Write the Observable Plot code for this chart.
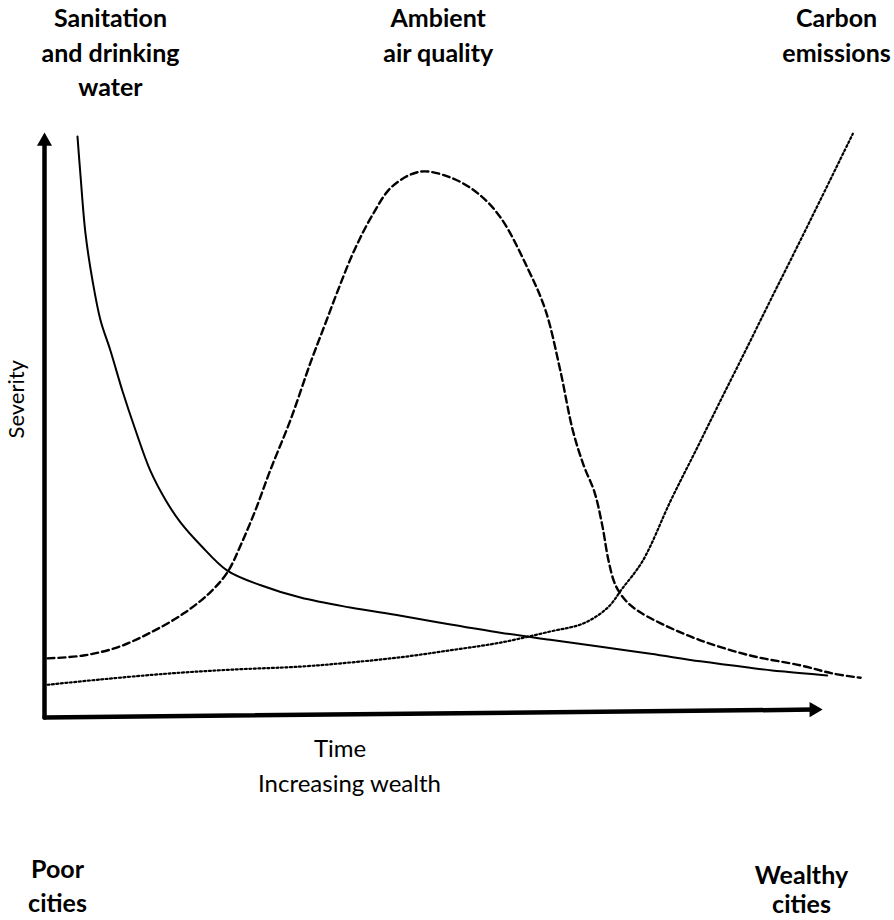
<!DOCTYPE html>
<html>
<head>
<meta charset="utf-8">
<script src="https://cdn.jsdelivr.net/npm/d3@7"></script>
<script src="https://cdn.jsdelivr.net/npm/@observablehq/plot@0.6"></script>
<style>
  html, body { margin: 0; padding: 0; background: #fff; }
  #chart svg { display: block; }
</style>
</head>
<body>
<div id="chart"></div>
<script>
// Time / increasing wealth (0..100) vs severity (0..100)
const sanitationX = [4.24, 4.63, 5.27, 6.17, 7.2, 8.48, 10.0, 11.7, 13.6, 15.6, 17.5, 20.1, 23.5, 27.8, 32.9, 39.3, 45.8, 52.2, 58.6, 65.0, 71.5, 77.9, 84.3, 90.7, 94.6, 100.6];
const sanitationY = [99.3, 92.6, 82.7, 74.7, 67.9, 62.7, 55.9, 49.1, 42.2, 37.1, 33.3, 29.4, 25.1, 22.6, 20.5, 18.8, 17.4, 15.9, 14.5, 13.3, 12.1, 10.9, 9.6, 8.5, 7.9, 7.2];

const airX = [0.39, 5.01, 9.38, 13.6, 17.9, 21.3, 23.5, 25.2, 27.1, 29.0, 31.6, 34.2, 36.0, 37.8, 39.8, 42.2, 44.7, 48.3, 52.2, 55.7, 58.6, 62.1, 64.4, 66.3, 67.9, 69.3, 70.7, 71.7, 72.5, 73.4, 74.7, 76.2, 79.2, 84.3, 90.7, 97.2, 101.4, 104.9];
const airY = [10.1, 10.6, 12.0, 14.5, 17.8, 21.4, 24.8, 29.4, 35.4, 42.2, 50.8, 60.7, 67.0, 73.3, 79.8, 86.0, 90.8, 93.3, 92.3, 89.6, 85.5, 76.8, 69.6, 59.3, 49.1, 43.1, 38.5, 32.8, 26.8, 22.6, 20.0, 18.3, 16.1, 13.2, 10.6, 8.9, 7.5, 6.8];

const carbonX = [0.39, 7.2, 15.8, 24.3, 32.9, 39.3, 45.8, 52.2, 58.6, 65.0, 69.3, 72.4, 74.3, 76.9, 80.5, 83.7, 86.9, 90.1, 93.3, 96.5, 99.7, 103.9];
const carbonY = [5.6, 6.5, 7.5, 8.2, 8.7, 9.4, 10.3, 11.5, 12.8, 14.7, 16.1, 18.8, 22.1, 26.8, 37.1, 45.6, 54.2, 62.7, 71.3, 79.8, 88.4, 99.8];

// axis arrows
const yAxisX = [0, 0];
const yAxisY = [0, 98.5];
const xAxisX = [0, 98.9];
const xAxisY = [0, 1.35];

// labels
const headLines = ["Sanitation", "and drinking", "water", "Ambient", "air quality", "Carbon", "emissions"];
const headX = [8.48, 8.48, 8.48, 50.6, 50.6, 101.8, 101.8];
const headY = [118.1, 112.1, 106.2, 118.1, 112.1, 118.1, 112.1];

const footLines = ["Poor", "cities", "Wealthy", "cities"];
const footX = [1.67, 1.67, 97.3, 97.3];
const footY = [-27.4, -33.2, -28.4, -33.5];

const axisLines = ["Time", "Increasing wealth"];
const axisLX = [38.0, 39.2];
const axisLY = [-6.8, -12.8];

const yLabel = "Severity";
const yLabelX = -2.6;
const yLabelY = 54.4;

const zip = (xs, ys, extra) => xs.map((x, i) => ({x, y: ys[i], ...(extra ? {t: extra[i]} : {})}));

const chart = Plot.plot({
  width: 894,
  height: 920,
  marginLeft: 44,
  marginRight: 72,
  marginTop: 132,
  marginBottom: 203,
  x: {domain: [0, 100], axis: null},
  y: {domain: [0, 100], axis: null},
  style: {background: "#fff", overflow: "visible"},
  marks: [
    // axes
    Plot.line(zip(yAxisX, yAxisY), {x: "x", y: "y", stroke: "#000", strokeWidth: 4.5}),
    Plot.line(zip(xAxisX, xAxisY), {x: "x", y: "y", stroke: "#000", strokeWidth: 4.5}),
    Plot.dot([{x: yAxisX[1], y: yAxisY[1]}], {x: "x", y: "y", symbol: "triangle", r: 5.6, fill: "#000", stroke: "none"}),
    Plot.dot([{x: xAxisX[1], y: xAxisY[1]}], {x: "x", y: "y", symbol: "triangle", r: 5.6, fill: "#000", stroke: "none", rotate: 90}),
    // curves
    Plot.line(zip(sanitationX, sanitationY), {x: "x", y: "y", curve: "catmull-rom", stroke: "#000", strokeWidth: 2}),
    Plot.line(zip(airX, airY), {x: "x", y: "y", curve: "catmull-rom", stroke: "#000", strokeWidth: 2.4, strokeDasharray: "7,4"}),
    Plot.line(zip(carbonX, carbonY), {x: "x", y: "y", curve: "catmull-rom", stroke: "#000", strokeWidth: 2.2, strokeDasharray: "2,2.5"}),
    // text
    Plot.text(zip(headX, headY, headLines), {x: "x", y: "y", text: "t", fontFamily: "Lato", fontWeight: "bold", fontSize: 25, fill: "#000", lineAnchor: "bottom", textAnchor: "middle"}),
    Plot.text(zip(footX, footY, footLines), {x: "x", y: "y", text: "t", fontFamily: "Lato", fontWeight: "bold", fontSize: 25, fill: "#000", lineAnchor: "bottom", textAnchor: "middle"}),
    Plot.text(zip(axisLX, axisLY, axisLines), {x: "x", y: "y", text: "t", fontFamily: "Lato", fontSize: 24, fill: "#000", lineAnchor: "bottom", textAnchor: "middle"}),
    Plot.text([{x: yLabelX, y: yLabelY, t: yLabel}], {x: "x", y: "y", text: "t", fontFamily: "Lato", fontSize: 22, fill: "#000", rotate: -90, lineAnchor: "bottom", textAnchor: "middle"})
  ]
});
document.getElementById("chart").appendChild(chart);
</script>
</body>
</html>
